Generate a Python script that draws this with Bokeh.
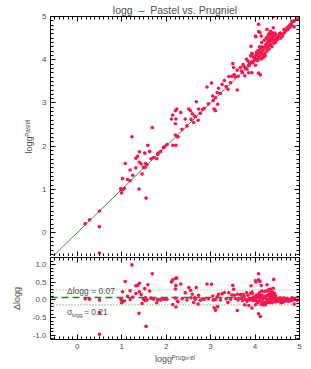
import math
from bokeh.plotting import figure
from bokeh.models import (Label, LinearAxis, Range1d, SingleIntervalTicker,
                          NumeralTickFormatter, Title)
from bokeh.layouts import column
from bokeh.embed import file_html
from bokeh.resources import INLINE

# ---------------- data ----------------
prugniel = [
    0.18, 0.28, 0.50, 0.50, 0.50,
    0.98, 0.99, 1.00, 1.03, 1.06, 1.02, 1.08, 1.13, 1.19, 1.19, 1.23, 1.25, 1.32, 1.32, 1.36,
    1.39, 1.40, 1.40, 1.44, 1.46, 1.49, 1.52, 1.53, 1.54, 1.55, 1.57, 1.59, 1.63, 1.66, 1.69,
    1.72, 1.79, 1.81, 1.82, 1.88, 1.94, 1.97, 2.02,
    2.12, 2.15, 2.15, 2.21, 2.21, 2.21, 2.22, 2.24, 2.22, 2.25, 2.27, 2.33, 2.36, 2.43, 2.47,
    2.51, 2.55, 2.56, 2.59, 2.62, 2.64, 2.66, 2.68, 2.72, 2.73, 2.77, 2.82, 2.86, 2.92, 2.95,
    3.02, 3.05, 3.06, 3.08, 3.11, 3.11, 3.15, 3.16, 3.18, 3.22, 3.26, 3.31, 3.35, 3.39, 3.41,
    3.45, 3.48,
    3.50, 3.52, 3.53, 3.56, 3.60, 3.60, 3.62, 3.67, 3.69, 3.72, 3.73, 3.75, 3.77, 3.78, 3.81,
    3.82, 3.84, 3.85, 3.86, 3.87, 3.88, 3.90, 3.91, 3.92, 3.93, 3.93, 3.94, 3.95, 3.97, 3.98, 3.99,
    4.00, 4.01, 4.01, 4.02, 4.02, 4.03, 4.04, 4.05, 4.06, 4.07, 4.08, 4.08, 4.08, 4.08, 4.09,
    4.10, 4.11, 4.11, 4.12, 4.12, 4.13, 4.14, 4.14, 4.15, 4.16, 4.17, 4.18, 4.19, 4.20, 4.21,
    4.22, 4.23, 4.24,
    4.25, 4.26, 4.27, 4.27, 4.28, 4.29, 4.30, 4.30, 4.31, 4.32, 4.33, 4.34, 4.35, 4.35, 4.36,
    4.37, 4.38, 4.38, 4.39, 4.40, 4.40, 4.41, 4.42, 4.42, 4.43, 4.44, 4.45, 4.46, 4.47, 4.48, 4.50,
    4.52, 4.53, 4.55, 4.57, 4.58, 4.60, 4.62, 4.65, 4.66, 4.68, 4.70, 4.72, 4.74, 4.76, 4.78,
    4.80, 4.82, 4.83, 4.85, 4.87, 4.88, 4.89, 4.95,
]
pastel = [
    0.21, 0.30, 0.50, 0.14, -0.47,
    1.02, 0.99, 0.92, 1.00, 1.03, 1.25, 1.60, 1.23, 1.20, 1.45, 2.22, 1.33, 1.50, 1.72, 1.77,
    1.01, 1.87, 1.63, 1.59, 1.36, 1.51, 1.84, 1.51, 1.60, 0.80, 1.57, 2.02, 1.88, 1.71, 2.43,
    1.74, 1.71, 1.81, 1.84, 1.88, 1.97, 1.99, 2.04,
    2.63, 2.72, 2.02, 2.82, 2.52, 2.26, 2.02, 2.86, 2.63, 2.22, 2.22, 2.78, 2.39, 2.63, 2.47,
    2.86, 2.82, 2.62, 2.75, 2.55, 2.70, 2.68, 3.03, 2.60, 2.86, 2.76, 2.85, 2.88, 3.37, 2.98,
    3.46, 3.16, 3.06, 2.86, 2.82, 3.12, 3.24, 2.97, 3.34, 3.22, 3.43, 3.52, 3.38, 3.32, 3.61,
    3.47, 3.62,
    3.91, 3.82, 3.66, 3.60, 3.76, 3.30, 3.62, 3.82, 3.74, 3.70, 3.89, 3.85, 3.63, 3.80, 4.01,
    3.78, 3.97, 3.86, 3.70, 3.91, 3.88, 4.09, 4.31, 3.95, 3.70, 4.15, 4.13, 3.93, 4.06, 3.98, 4.03,
    4.02, 3.87, 4.55, 4.53, 4.10, 4.17, 4.00, 4.12, 3.98, 4.21, 4.82, 4.65, 3.69, 4.05, 4.15,
    4.30, 4.63, 4.08, 3.65, 4.25, 4.18, 4.55, 4.02, 4.40, 4.30, 4.12, 4.22, 4.05, 4.28, 4.45,
    4.15, 4.09, 4.35,
    4.50, 4.28, 4.20, 4.70, 4.40, 4.55, 4.32, 4.45, 4.60, 4.25, 4.50, 4.42, 4.66, 4.35, 4.58,
    4.48, 4.59, 4.30, 4.52, 4.62, 4.45, 4.74, 5.00, 4.38, 4.55, 4.62, 4.48, 4.40, 4.58, 4.45, 4.51,
    4.48, 4.55, 4.60, 4.62, 4.50, 4.58, 4.55, 4.70, 4.62, 4.66, 4.68, 4.74, 4.70, 4.78, 4.75,
    4.82, 4.80, 4.89, 4.88, 4.89, 4.76, 4.90, 4.94,
]
delta = [b - a for a, b in zip(prugniel, pastel)]   # Pastel - Prugniel

mean_delta = 0.07
sigma_delta = 0.21

x_limits = (-0.6, 5.0)
top_y_limits = (-0.55, 5.0)
bot_y_limits = (-1.12, 1.2)

title_text = "logg \u00a0\u2013\u00a0 Pastel vs. Prugniel"
top_ylabel = "logg\u1d3e\u1d43\u02e2\u1d57\u1d49\u02e1"                     # logg^Pastel
bot_xlabel = "logg\u1d3e\u02b3\u1d58\u1d4d\u207f\u2071\u1d49\u02e1"           # logg^Prugniel
bot_ylabel = "\u0394logg"

# ---------------- style ----------------
FONT = "Liberation Sans"
TXT = "#505050"
RED = "#F5164E"
GREEN = "#3F8F35"
DGREEN = "#277A20"
LGREEN = "#6FA55A"


def make_axis(ticker, fmt=None, labels=True, label=None, standoff=4):
    ax = LinearAxis(ticker=ticker)
    if fmt is not None:
        ax.formatter = fmt
    ax.major_tick_in = 5
    ax.major_tick_out = 0
    ax.minor_tick_in = 3
    ax.minor_tick_out = 0
    ax.axis_line_color = "black"
    ax.major_tick_line_color = "black"
    ax.minor_tick_line_color = "black"
    ax.major_label_text_font = FONT
    if labels:
        ax.major_label_text_color = TXT
        ax.major_label_text_font_size = "8px"
        ax.major_label_standoff = 4
    else:
        ax.major_label_text_color = None
        ax.major_label_text_font_size = "0px"
        ax.major_label_standoff = 0
    if label is not None:
        ax.axis_label = label
        ax.axis_label_text_font = FONT
        ax.axis_label_text_font_size = "9px"
        ax.axis_label_text_font_style = "normal"
        ax.axis_label_text_color = TXT
        ax.axis_label_standoff = standoff
    return ax


def txt(p, **kw):
    kw.setdefault("text_font", FONT)
    kw.setdefault("text_color", TXT)
    p.add_layout(Label(**kw))


xr = Range1d(*x_limits)

# ---------------- top panel ----------------
p1 = figure(width=305, height=256, x_range=xr, y_range=Range1d(*top_y_limits),
            output_backend="svg", toolbar_location=None,
            x_axis_location=None, y_axis_location=None,
            min_border_left=50, min_border_right=6, min_border_top=15, min_border_bottom=0)
p1.title = Title(text=title_text, align="center", text_font=FONT, text_font_size="10.5px",
                 text_font_style="normal", text_color=TXT, standoff=2, offset=0)
p1.outline_line_color = None
p1.xgrid.visible = False
p1.ygrid.visible = False
p1.add_layout(make_axis(SingleIntervalTicker(interval=1, num_minor_ticks=10),
                        label=top_ylabel, standoff=5), "left")
p1.add_layout(make_axis(SingleIntervalTicker(interval=1, num_minor_ticks=10), labels=False), "right")
p1.add_layout(make_axis(SingleIntervalTicker(interval=1, num_minor_ticks=10), labels=False), "below")
p1.add_layout(make_axis(SingleIntervalTicker(interval=1, num_minor_ticks=10), labels=False), "above")

# one-to-one line (identity over the x range)
p1.line(x=list(x_limits), y=list(x_limits), line_color=GREEN, line_width=1)
p1.scatter(prugniel, pastel, size=3.6, fill_color=RED, line_color=None)

# ---------------- bottom panel ----------------
p2 = figure(width=305, height=112, x_range=xr, y_range=Range1d(*bot_y_limits),
            output_backend="svg", toolbar_location=None,
            x_axis_location=None, y_axis_location=None,
            min_border_left=50, min_border_right=6, min_border_top=1, min_border_bottom=29)
p2.outline_line_color = None
p2.xgrid.visible = False
p2.ygrid.visible = False
fmt = NumeralTickFormatter(format="0.0")
p2.add_layout(make_axis(SingleIntervalTicker(interval=0.5, num_minor_ticks=5), fmt=fmt,
                        label=bot_ylabel, standoff=8), "left")
p2.add_layout(make_axis(SingleIntervalTicker(interval=0.5, num_minor_ticks=5), labels=False), "right")
p2.add_layout(make_axis(SingleIntervalTicker(interval=1, num_minor_ticks=10),
                        label=bot_xlabel, standoff=2), "below")
p2.add_layout(make_axis(SingleIntervalTicker(interval=1, num_minor_ticks=10), labels=False), "above")

# mean offset (dashed) and +/- 1 sigma (dotted)
p2.line(x=list(x_limits), y=[mean_delta, mean_delta], line_color=DGREEN,
        line_dash="7 4", line_width=1.6)
for s in (mean_delta + sigma_delta, mean_delta - sigma_delta):
    p2.line(x=list(x_limits), y=[s, s], line_color=LGREEN, line_dash="1 2", line_width=1.2)
p2.scatter(prugniel, delta, size=3.6, fill_color=RED, line_color=None)

txt(p2, x=-0.23, y=0.24, text=f"\u0394logg = {mean_delta:.2f}",
    text_align="left", text_baseline="middle", text_font_size="8.5px")
txt(p2, x=-0.23, y=-0.35, text="\u03c3",
    text_align="left", text_baseline="middle", text_font_size="8.5px")
txt(p2, x=-0.23, y=-0.35, x_offset=5, y_offset=-2.5, text="logg",
    text_align="left", text_baseline="middle", text_font_size="5.5px")
txt(p2, x=-0.23, y=-0.35, x_offset=17, text=f"= {sigma_delta:.2f}",
    text_align="left", text_baseline="middle", text_font_size="8.5px")

layout = column(p1, p2, spacing=0)
open("out.html", "w").write(file_html(layout, INLINE))
